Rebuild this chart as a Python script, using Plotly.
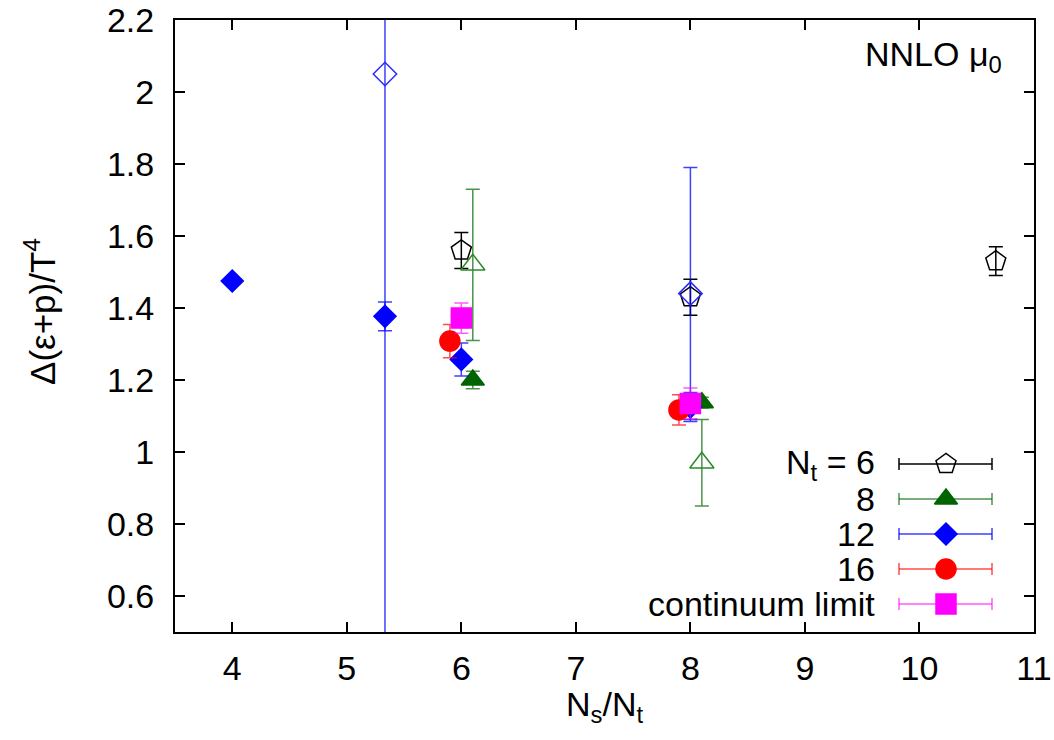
import plotly.graph_objects as go

# ---- data: Delta(eps+p)/T^4 versus aspect ratio Ns/Nt ----
nt6_x = [6.0, 8.0, 32 / 3]
nt6_y = [1.56, 1.43, 1.53]
nt6_err = [0.05, 0.05, 0.04]

nt8_x = [6.1, 8.1]
nt8_y = [1.20, 1.137]
nt8_err = [0.024, 0.015]

nt8_open_x = [6.1, 8.1]
nt8_open_y = [1.52, 0.97]
nt8_open_err = [0.21, 0.12]

nt12_x = [4.0, 16 / 3, 6.0, 8.0]
nt12_y = [1.475, 1.377, 1.257, 1.125]
nt12_err = [0.01, 0.04, 0.046, 0.04]

nt12_open_x = [16 / 3, 8.0]
nt12_open_y = [2.05, 1.44]
nt12_open_err = [1.6, 0.35]

nt16_x = [5.9, 7.9]
nt16_y = [1.308, 1.117]
nt16_err = [0.046, 0.042]

cont_x = [6.0, 8.0]
cont_y = [1.372, 1.135]
cont_err = [0.042, 0.043]

legend_labels = ["N<sub>t</sub> = 6", "8", "12", "16", "continuum limit"]

x_range = [3.5, 11]
y_range = [0.5, 2.2]
x_ticks = [4, 5, 6, 7, 8, 9, 10, 11]
y_ticks = [0.6, 0.8, 1.0, 1.2, 1.4, 1.6, 1.8, 2.0, 2.2]

# ---- styling ----
FONT = "Liberation Sans, Arial, Helvetica, sans-serif"
FS = 34
W, H = 1054, 740
ML, MR, MT, MB = 175, 20, 20, 108

BLACK = "#000000"
GREEN = "#006400"
GREEN_OPEN = "#2a8a2a"
GREEN_BAR = "rgba(0,100,0,0.7)"
BLUE = "#0000ff"
BLUE_OPEN = "#2a2aff"
BLUE_BAR = "rgba(0,0,255,0.75)"
RED = "#ff0000"
RED_BAR = "rgba(255,0,0,0.7)"
MAGENTA = "#ff00ff"
MAGENTA_BAR = "rgba(255,0,255,0.65)"

styles = [
    dict(symbol="pentagon-open", color=BLACK, bar=BLACK, size=21),
    dict(symbol="triangle-up", color=GREEN, bar=GREEN_BAR, size=20),
    dict(symbol="diamond", color=BLUE, bar=BLUE_BAR, size=17),
    dict(symbol="circle", color=RED, bar=RED_BAR, size=20),
    dict(symbol="square", color=MAGENTA, bar=MAGENTA_BAR, size=20),
]


def series(x, y, err, sym, color, bar, size, lw=1.5):
    return go.Scatter(
        x=x, y=y, mode="markers",
        marker=dict(symbol=sym, size=size, color=color, opacity=1,
                    line=dict(color=color, width=lw)),
        error_y=dict(type="data", array=err, visible=True,
                     color=bar, thickness=1.5, width=7),
        showlegend=False, hoverinfo="skip",
    )


fig = go.Figure()

# open symbols first, filled symbols on top
fig.add_trace(series(nt6_x, nt6_y, nt6_err, "pentagon-open", BLACK, BLACK, 21))
fig.add_trace(series(nt8_open_x, nt8_open_y, nt8_open_err,
                     "triangle-up-open", GREEN_OPEN, GREEN_BAR, 21))
fig.add_trace(series(nt12_open_x, nt12_open_y, nt12_open_err,
                     "diamond-open", BLUE_OPEN, BLUE_BAR, 18))
fig.add_trace(series(nt8_x, nt8_y, nt8_err, "triangle-up", GREEN, GREEN_BAR, 20))
fig.add_trace(series(nt12_x, nt12_y, nt12_err, "diamond", BLUE, BLUE_BAR, 17))
fig.add_trace(series(nt16_x, nt16_y, nt16_err, "circle", RED, RED_BAR, 20))
fig.add_trace(series(cont_x, cont_y, cont_err, "square", MAGENTA, MAGENTA_BAR, 20))

# ---- key in the lower right corner (pixel layout -> paper coordinates) ----
PW = W - ML - MR
PH = H - MT - MB


def px_to_paper_x(px):
    return (px - ML) / PW


def py_to_paper_y(py):
    return (H - MB - py) / PH


key_rows_py = [464, 499, 534, 569, 604]
key_text_px = 877
key_line_px = (899, 992)
key_mark_px = 946
cap_half = 6

shapes = []
annotations = []
for label, st, py in zip(legend_labels, styles, key_rows_py):
    yp = py_to_paper_y(py)
    x0 = px_to_paper_x(key_line_px[0])
    x1 = px_to_paper_x(key_line_px[1])
    shapes.append(dict(type="line", xref="paper", yref="paper", layer="below",
                       x0=x0, x1=x1, y0=yp, y1=yp,
                       line=dict(color=st["bar"], width=1.5)))
    for xe in (x0, x1):
        shapes.append(dict(type="line", xref="paper", yref="paper",
                           layer="below", x0=xe, x1=xe,
                           y0=py_to_paper_y(py - cap_half),
                           y1=py_to_paper_y(py + cap_half),
                           line=dict(color=st["bar"], width=1.5)))
    annotations.append(dict(xref="paper", yref="paper",
                            x=px_to_paper_x(key_text_px), y=yp,
                            xanchor="right", yanchor="middle",
                            text=label, showarrow=False,
                            font=dict(family=FONT, size=FS, color=BLACK)))
    # key symbol on an overlay axis spanning the plot area as 0..1
    fig.add_trace(go.Scatter(
        x=[px_to_paper_x(key_mark_px)], y=[yp],
        mode="markers", xaxis="x2", yaxis="y2",
        marker=dict(symbol=st["symbol"], size=st["size"], color=st["color"],
                    opacity=1, line=dict(color=st["color"], width=1.5)),
        showlegend=False, hoverinfo="skip", cliponaxis=False,
    ))

# panel label and axis titles
annotations.append(dict(xref="paper", yref="paper",
                        x=px_to_paper_x(1004), y=py_to_paper_y(56),
                        xanchor="right", yanchor="middle",
                        text="NNLO μ<sub>0</sub>", showarrow=False,
                        font=dict(family=FONT, size=FS, color=BLACK)))
annotations.append(dict(xref="paper", yref="paper",
                        x=0.5, y=py_to_paper_y(706),
                        xanchor="center", yanchor="middle",
                        text="N<sub>s</sub>/N<sub>t</sub>", showarrow=False,
                        font=dict(family=FONT, size=FS, color=BLACK)))
annotations.append(dict(xref="paper", yref="paper",
                        x=px_to_paper_x(40), y=py_to_paper_y(312),
                        xanchor="center", yanchor="middle", textangle=-90,
                        text="Δ(ε+p)/T<sup>4</sup>", showarrow=False,
                        font=dict(family=FONT, size=35, color=BLACK)))

axis_common = dict(
    showgrid=False, zeroline=False, showline=True, linecolor=BLACK,
    linewidth=2, mirror="allticks", ticks="inside", ticklen=10,
    tickwidth=1.5, tickcolor=BLACK, automargin=False,
    tickfont=dict(family=FONT, size=FS, color=BLACK),
)

fig.update_layout(
    width=W, height=H,
    margin=dict(l=ML, r=MR, t=MT, b=MB, pad=0, autoexpand=False),
    paper_bgcolor="white", plot_bgcolor="white",
    font=dict(family=FONT, size=FS, color=BLACK),
    xaxis=dict(range=x_range, tickmode="array", tickvals=x_ticks,
               ticklabelstandoff=5, **axis_common),
    yaxis=dict(range=y_range, tickmode="array", tickvals=y_ticks,
               ticktext=[f"{v:g}" for v in y_ticks],
               ticklabelstandoff=12, **axis_common),
    xaxis2=dict(range=[0, 1], overlaying="x", visible=False, fixedrange=True),
    yaxis2=dict(range=[0, 1], overlaying="y", visible=False, fixedrange=True),
    shapes=shapes,
    annotations=annotations,
    showlegend=False,
)

fig.write_html("out.html")
